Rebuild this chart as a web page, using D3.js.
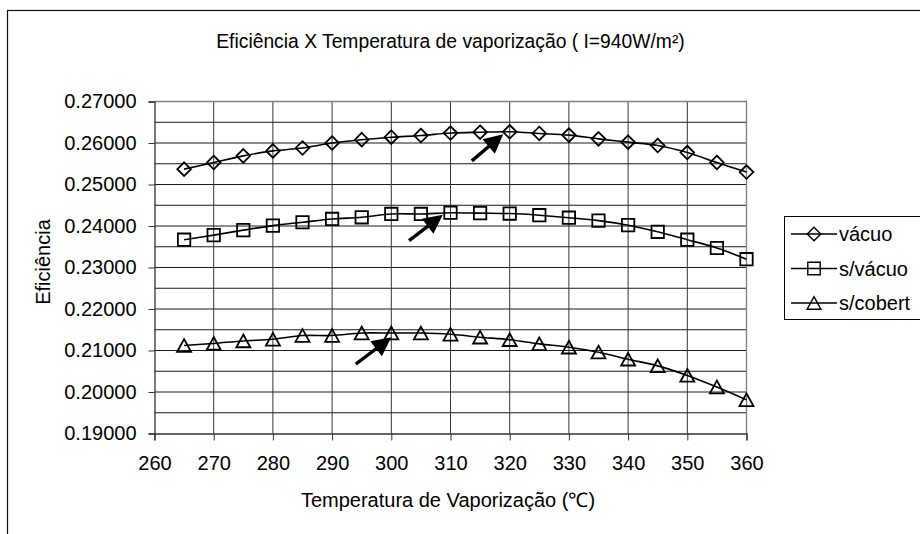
<!DOCTYPE html>
<html>
<head>
<meta charset="utf-8">
<script src="https://cdn.jsdelivr.net/npm/d3@7"></script>
<style>
  body { margin: 0; background: #fff; }
  svg { display: block; font-family: "Liberation Sans", Arial, sans-serif; }
</style>
</head>
<body>
<div id="container"></div>
<script>
/* DATA */
const temps = [265, 270, 275, 280, 285, 290, 295, 300, 305, 310, 315, 320, 325, 330, 335, 340, 345, 350, 355, 360];
const vacuo = [0.2537, 0.2553, 0.2569, 0.2581, 0.2588, 0.2600, 0.2608, 0.2614, 0.2618, 0.2624, 0.2626, 0.2627, 0.2623, 0.2619, 0.2610, 0.2602, 0.2594, 0.2577, 0.2553, 0.2530];
const semVacuo = [0.2367, 0.2378, 0.2390, 0.2401, 0.2409, 0.2417, 0.2421, 0.2429, 0.2429, 0.2432, 0.2431, 0.2430, 0.2426, 0.2420, 0.2413, 0.2402, 0.2386, 0.2367, 0.2347, 0.2320];
const semCobert = [0.2112, 0.2117, 0.2123, 0.2127, 0.2136, 0.2136, 0.2142, 0.2142, 0.2142, 0.2139, 0.2132, 0.2126, 0.2116, 0.2108, 0.2096, 0.2079, 0.2063, 0.2040, 0.2012, 0.1981];
const seriesNames = ["vácuo", "s/vácuo", "s/cobert"];
const markerTypes = ["diamond", "square", "triangle"];
const xTicks = [260, 270, 280, 290, 300, 310, 320, 330, 340, 350, 360];
const yTicks = [0.19, 0.20, 0.21, 0.22, 0.23, 0.24, 0.25, 0.26, 0.27];
const yGrid = [0.195, 0.20, 0.205, 0.21, 0.215, 0.22, 0.225, 0.23, 0.235, 0.24, 0.245, 0.25, 0.255, 0.26, 0.265];
// arrows: tail (t, e) -> tip (t, e)
const arrows = [
  {t0: 313.6, e0: 0.2557, t1: 318.9, e1: 0.2621},
  {t0: 303.0, e0: 0.2365, t1: 308.7, e1: 0.2427},
  {t0: 294.0, e0: 0.2067, t1: 300.0, e1: 0.2132}
];
const titleText = "Eficiência X Temperatura de vaporização ( I=940W/m²)";
const xTitle = "Temperatura de Vaporização (\u2103)";
const yTitle = "Eficiência";

/* CONSTANTS */
const width = 920, height = 534;
const margin = {top: 101.5, bottom: 100.5, left: 154.5, right: 173.5};

const series = [vacuo, semVacuo, semCobert].map((vals, i) => ({
  name: seriesNames[i],
  marker: markerTypes[i],
  values: temps.map((t, j) => ({t: t, e: vals[j]}))
}));

/* SCALES */
const xScale = d3.scaleLinear()
  .domain([260, 360])
  .range([margin.left, width - margin.right]);

const yScale = d3.scaleLinear()
  .domain([0.19, 0.27])
  .range([height - margin.bottom, margin.top]);

const markerPath = {
  diamond: "M0,-6.8L6.8,0L0,6.8L-6.8,0Z",
  square: "M-6.2,-6.2H6.2V6.2H-6.2Z",
  triangle: "M0,-6.4L7,6.3H-7Z"
};

/* SVG */
const svg = d3.select("#container")
  .append("svg")
  .attr("width", width)
  .attr("height", height);

svg.append("rect")
  .attr("width", width).attr("height", height).attr("fill", "#fff");

// outer chart frame (right and bottom fall outside the picture)
svg.append("rect")
  .attr("x", 7.5).attr("y", 10.5)
  .attr("width", width + 20).attr("height", height + 20)
  .attr("fill", "none").attr("stroke", "#111").attr("stroke-width", 1.2);

// title
svg.append("text")
  .attr("x", 450.5).attr("y", 47.5)
  .attr("text-anchor", "middle")
  .attr("font-size", 19.3)
  .attr("fill", "#000")
  .text(titleText);

// grid
svg.append("g")
  .selectAll("line")
  .data(yGrid)
  .join("line")
  .attr("x1", xScale(260)).attr("x2", xScale(360))
  .attr("y1", d => yScale(d)).attr("y2", d => yScale(d))
  .attr("stroke", "#1a1a1a").attr("stroke-width", 1);

svg.append("g")
  .selectAll("line")
  .data(xTicks.slice(1, -1))
  .join("line")
  .attr("x1", d => xScale(d)).attr("x2", d => xScale(d))
  .attr("y1", yScale(0.27)).attr("y2", yScale(0.19))
  .attr("stroke", "#333").attr("stroke-width", 1);

// plot frame top / right
svg.append("path")
  .attr("d", `M${xScale(260)},${yScale(0.27)}H${xScale(360)}V${yScale(0.19)}`)
  .attr("fill", "none").attr("stroke", "#808080").attr("stroke-width", 1.3);

// axes
const xAxis = d3.axisBottom(xScale).tickValues(xTicks).tickSize(7).tickPadding(15).tickFormat(d3.format("d"));
const yAxis = d3.axisLeft(yScale).tickValues(yTicks).tickSize(6).tickPadding(12).tickFormat(d3.format(".5f"));

const gx = svg.append("g")
  .attr("transform", `translate(0,${height - margin.bottom})`)
  .call(xAxis);
const gy = svg.append("g")
  .attr("transform", `translate(${margin.left},0)`)
  .call(yAxis);

[gx, gy].forEach(g => {
  g.select(".domain").attr("stroke", "#333").attr("stroke-width", 1.3);
  g.selectAll(".tick line").attr("stroke", "#333");
  g.selectAll(".tick text")
    .attr("font-family", "Liberation Sans, Arial, sans-serif")
    .attr("font-size", 20).attr("fill", "#000");
});

// axis titles
svg.append("text")
  .attr("x", 448).attr("y", 507)
  .attr("text-anchor", "middle")
  .attr("font-size", 20).attr("fill", "#000")
  .text(xTitle);

svg.append("text")
  .attr("transform", "translate(50,262) rotate(-90)")
  .attr("text-anchor", "middle")
  .attr("font-size", 20).attr("fill", "#000")
  .text(yTitle);

// lines
const line = d3.line()
  .x(d => xScale(d.t))
  .y(d => yScale(d.e))
  .curve(d3.curveCatmullRom.alpha(0.5));

const gSeries = svg.append("g")
  .selectAll("g")
  .data(series)
  .join("g");

gSeries.append("path")
  .attr("d", d => line(d.values))
  .attr("fill", "none").attr("stroke", "#000").attr("stroke-width", 1.6);

gSeries.selectAll("path.mk")
  .data(d => d.values.map(v => ({...v, marker: d.marker})))
  .join("path")
  .attr("class", "mk")
  .attr("transform", d => `translate(${xScale(d.t)},${yScale(d.e)})`)
  .attr("d", d => markerPath[d.marker])
  .attr("fill", "none").attr("stroke", "#000").attr("stroke-width", 1.8);

// arrows
const gArrows = svg.append("g")
  .selectAll("g")
  .data(arrows)
  .join("g");

gArrows.each(function(d) {
  const x0 = xScale(d.t0), y0 = yScale(d.e0), x1 = xScale(d.t1), y1 = yScale(d.e1);
  const dx = x1 - x0, dy = y1 - y0, len = Math.hypot(dx, dy);
  const ux = dx / len, uy = dy / len;
  const headLen = 19, headW = 9.5;
  const bx = x1 - ux * headLen, by = y1 - uy * headLen;
  const g = d3.select(this);
  g.append("line")
    .attr("x1", x0).attr("y1", y0).attr("x2", bx + ux * 2).attr("y2", by + uy * 2)
    .attr("stroke", "#000").attr("stroke-width", 3.4);
  g.append("path")
    .attr("d", `M${x1},${y1}L${bx - uy * headW},${by + ux * headW}L${bx + uy * headW},${by - ux * headW}Z`)
    .attr("fill", "#000");
});

// legend
const legend = svg.append("g");
legend.append("rect")
  .attr("x", 784.5).attr("y", 216.5)
  .attr("width", 160).attr("height", 103)
  .attr("fill", "#fff").attr("stroke", "#000").attr("stroke-width", 1);

const legendY = d3.scalePoint().domain(seriesNames).range([234, 303]);

const li = legend.selectAll("g.li")
  .data(series)
  .join("g")
  .attr("class", "li")
  .attr("transform", d => `translate(0,${legendY(d.name)})`);

li.append("line")
  .attr("x1", 791).attr("x2", 837)
  .attr("stroke", "#000").attr("stroke-width", 1.4);
li.append("path")
  .attr("transform", "translate(814,0)")
  .attr("d", d => markerPath[d.marker])
  .attr("fill", "none").attr("stroke", "#000").attr("stroke-width", 1.4);
li.append("text")
  .attr("x", 839).attr("y", 7)
  .attr("font-size", 20).attr("fill", "#000")
  .text(d => d.name);
</script>
</body>
</html>
